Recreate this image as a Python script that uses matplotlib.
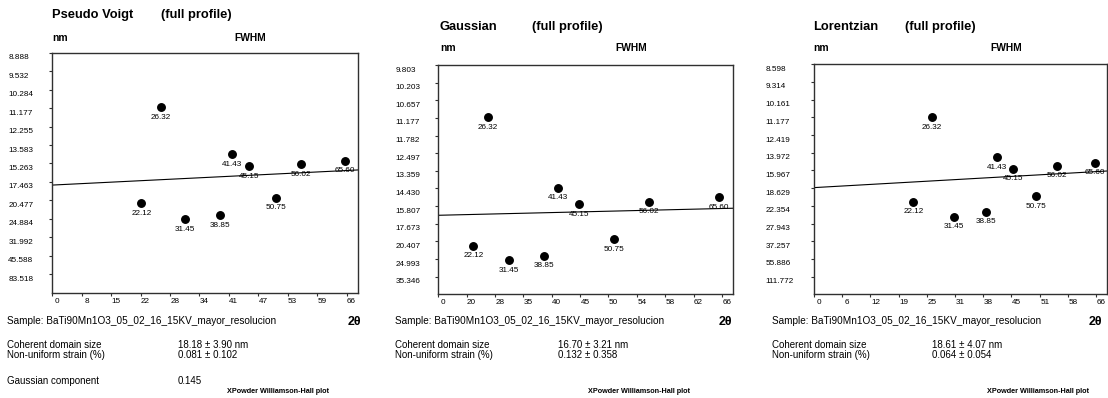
import numpy as np
import matplotlib
matplotlib.use('Agg')
import matplotlib.pyplot as plt
from matplotlib.transforms import ScaledTranslation

plt.rcParams['font.family'] = ['Liberation Sans', 'DejaVu Sans']

W, H, DPI = 1108, 398, 100

# ---------------- data ----------------
peaks_2theta = [22.12, 26.32, 31.45, 38.85, 41.43, 45.15, 50.75, 56.02, 65.60]

# ordinate of each reflection, in units of one y-tick step (0 at bottom axis)
pv_y = [4.84, 10.04, 3.98, 4.21, 7.51, 6.85, 5.15, 6.96, 7.15]
ga_y = [2.76, 10.03, 1.94, 2.19, 6.04, 5.10, 3.13, 5.25, 5.52]
lo_y = [5.23, 10.00, 4.39, 4.67, 7.74, 7.10, 5.56, 7.27, 7.44]

# fitted line: value at left edge and at right edge of plot
pv_fit = [5.83, 6.65]
ga_fit = [4.48, 4.88]
lo_fit = [6.03, 6.97]

# y tick labels (nm), top to bottom
pv_ylabels = ['8.888', '9.532', '10.284', '11.177', '12.255', '13.583', '15.263',
              '17.463', '20.477', '24.884', '31.992', '45.588', '83.518']
ga_ylabels = ['9.803', '10.203', '10.657', '11.177', '11.782', '12.497', '13.359',
              '14.430', '15.807', '17.673', '20.407', '24.993', '35.346']
lo_ylabels = ['8.598', '9.314', '10.161', '11.177', '12.419', '13.972', '15.967',
              '18.629', '22.354', '27.943', '37.257', '55.886', '111.772']

# x tick labels (2theta)
pv_xlabels = ['0', '8', '15', '22', '28', '34', '41', '47', '53', '59', '66']
ga_xlabels = ['0', '20', '28', '35', '40', '45', '50', '54', '58', '62', '66']
lo_xlabels = ['0', '6', '12', '19', '25', '31', '38', '45', '51', '58', '66']

titles = ['Pseudo Voigt', 'Gaussian', 'Lorentzian']
sample = 'Sample: BaTi90Mn1O3_05_02_16_15KV_mayor_resolucion'
domain_size = ['18.18 \u00b1 3.90 nm', '16.70 \u00b1 3.21 nm', '18.61 \u00b1 4.07 nm']
strain = ['0.081 \u00b1 0.102', '0.132 \u00b1 0.358', '0.064 \u00b1 0.054']
gauss_comp = '0.145'

# x-scale exponent on sin(theta) for each profile
powers = [1.145, 2.0, 1.0]
XMAX = 10.4

# ---------------- layout (pixels) ----------------
panels = [
    dict(ax=(52.3, 52.7, 358.3, 292.7), ylab_x=11.7, title=(52.5, 15), full=(161, 15),
         nm=(52.5, 37.7), fwhm=(234, 37.7), text_x=6.7, val_x=178, theta=(348, 322),
         xp=(226.7, 391.7)),
    dict(ax=(438.3, 65, 733.3, 294.3), ylab_x=399.3, title=(440, 27.3), full=(531.7, 27.3),
         nm=(440, 48.3), fwhm=(615, 48.3), text_x=395, val_x=558.3, theta=(718.3, 322),
         xp=(588.3, 391.7)),
    dict(ax=(814, 64.3, 1107.4, 294.3), ylab_x=769.3, title=(813.3, 27.3), full=(905, 27.3),
         nm=(813.3, 48.3), fwhm=(990, 48.3), text_x=771.7, val_x=931.7, theta=(1088.3, 322),
         xp=(986.7, 391.7)),
]

fig = plt.figure(figsize=(W / DPI, H / DPI), dpi=DPI)
fig.patch.set_facecolor('white')


def ftext(x, y, s, **kw):
    fig.text(x / W, 1 - y / H, s, va='center', ha=kw.pop('ha', 'left'), **kw)


ys = [pv_y, ga_y, lo_y]
fits = [pv_fit, ga_fit, lo_fit]
ylabs = [pv_ylabels, ga_ylabels, lo_ylabels]
xlabs = [pv_xlabels, ga_xlabels, lo_xlabels]
spine_c = '#303030'
TICK_FS = 5.9
BODY_FS = 7.0

for i, p in enumerate(panels):
    l, t, r, b = p['ax']
    ax = fig.add_axes([l / W, 1 - b / H, (r - l) / W, (b - t) / H])
    th = np.radians(np.array(peaks_2theta) / 2)
    ref = np.sin(np.radians(33.0)) ** powers[i]
    xs = 10 * np.sin(th) ** powers[i] / ref
    ax.plot(xs, ys[i], 'o', color='black', ms=5.4, zorder=3)
    for x, y, lab in zip(xs, ys[i], peaks_2theta):
        ax.annotate(f'{lab:.2f}', (x, y), xytext=(0, -7.3), textcoords='offset points',
                    ha='center', va='center', fontsize=TICK_FS)
    ax.plot([0, XMAX], fits[i], color='black', lw=0.8, zorder=2)
    ax.set_xlim(0, XMAX)
    ax.set_ylim(0, 13)
    for s in ax.spines.values():
        s.set_color(spine_c)
        s.set_linewidth(1.0)
    ax.set_yticks(np.arange(13, 0, -1), ylabs[i])
    ax.set_xticks(np.arange(0, 11), xlabs[i])
    ypad = (l - p['ylab_x']) * 72 / DPI
    ax.tick_params(axis='y', direction='out', length=2.5, width=0.8, color=spine_c,
                   pad=ypad, labelsize=TICK_FS)
    ax.tick_params(axis='x', direction='out', length=2.5, width=0.8, color=spine_c,
                   pad=1.0, labelsize=TICK_FS)
    offy = ScaledTranslation(0, -4 / DPI, fig.dpi_scale_trans)
    for lab in ax.get_yticklabels():
        lab.set_ha('left')
        lab.set_transform(lab.get_transform() + offy)
    offx = ScaledTranslation(5 / DPI, 0, fig.dpi_scale_trans)
    for lab in ax.get_xticklabels():
        lab.set_transform(lab.get_transform() + offx)

    ftext(*p['title'], titles[i], fontsize=9.3, fontweight='bold')
    ftext(*p['full'], '(full profile)', fontsize=9.3, fontweight='bold')
    ftext(*p['nm'], 'nm', fontsize=7.4, fontweight='bold')
    ftext(*p['fwhm'], 'FWHM', fontsize=7.4, fontweight='bold')
    ftext(p['text_x'], 321, sample, fontsize=7.2)
    ftext(*p['theta'], '2\u03b8', fontsize=9, fontweight='bold')
    ftext(p['text_x'], 345, 'Coherent domain size', fontsize=BODY_FS)
    ftext(p['val_x'], 345, domain_size[i], fontsize=BODY_FS)
    ftext(p['text_x'], 354.5, 'Non-uniform strain (%)', fontsize=BODY_FS)
    ftext(p['val_x'], 354.5, strain[i], fontsize=BODY_FS)
    if i == 0:
        ftext(p['text_x'], 381, 'Gaussian component', fontsize=BODY_FS)
        ftext(p['val_x'], 381, gauss_comp, fontsize=BODY_FS)
    ftext(*p['xp'], 'XPowder Williamson-Hall plot', fontsize=5.2, fontweight='bold')

fig.savefig('out.png', dpi=DPI, facecolor='white')
